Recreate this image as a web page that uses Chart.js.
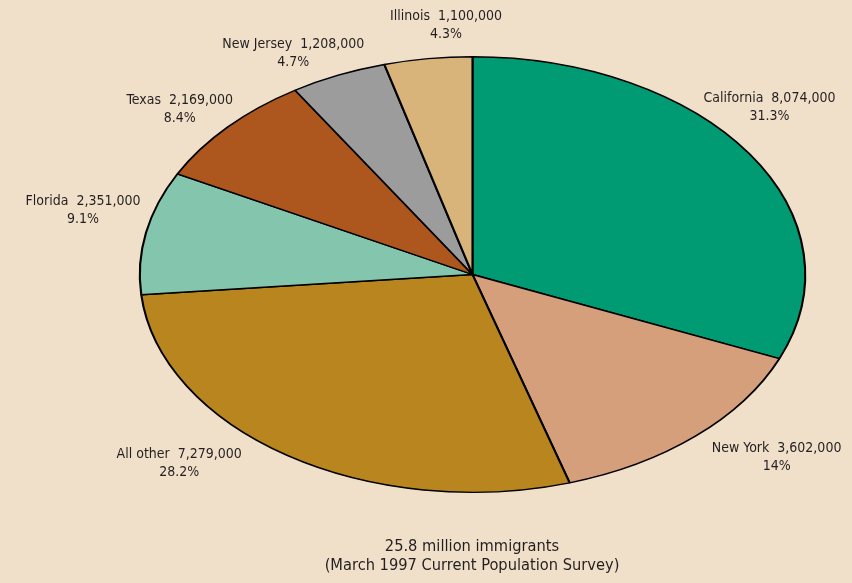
<!DOCTYPE html>
<html>
<head>
<meta charset="utf-8">
<script src="https://cdn.jsdelivr.net/npm/chart.js@4.4.0/dist/chart.umd.min.js"></script>
<style>
  html, body { margin: 0; padding: 0; background: #f0e0ca; }
  #wrap { position: relative; width: 852px; height: 583px; }
</style>
</head>
<body>
<div id="wrap"><canvas id="myChart" width="852" height="583"></canvas></div>
<script>
// Immigrant population by state, March 1997 CPS
const states = ['California', 'New York', 'All other', 'Florida', 'Texas', 'New Jersey', 'Illinois'];
const counts = [8074000, 3602000, 7279000, 2351000, 2169000, 1208000, 1100000];
const percents = ['31.3%', '14%', '28.2%', '9.1%', '8.4%', '4.7%', '4.3%'];
const captionLines = ['25.8 million immigrants', '(March 1997 Current Population Survey)'];

const sliceColors = ['#009a73', '#d59f7c', '#b8851f', '#83c5ad', '#ad571e', '#9c9c9c', '#d8b47b'];
// label nudges from the slice's outer edge (x, y)
const labelNudge = [[20, -56], [81, 12], [-108, -1], [-63, -31], [-48, -27], [-45, -31], [18, -42]];

const FONT = '"Liberation Sans Narrow", "DejaVu Sans Condensed", sans-serif';
const stretchX = 333 / 218;

// squash the circle into an ellipse by stretching it horizontally
const ellipsePlugin = {
    id: 'ellipse',
    beforeDatasetsDraw(chart) {
        const arc = chart.getDatasetMeta(0).data[0];
        const ctx = chart.ctx;
        ctx.save();
        ctx.translate(arc.x, arc.y);
        ctx.scale(stretchX, 1);
        ctx.translate(-arc.x, -arc.y);
    },
    afterDatasetsDraw(chart) {
        chart.ctx.restore();
    }
};

const labelPlugin = {
    id: 'sliceLabels',
    afterDraw(chart) {
        const ctx = chart.ctx;
        const arcs = chart.getDatasetMeta(0).data;
        ctx.save();
        ctx.fillStyle = '#231f20';
        ctx.textAlign = 'center';
        ctx.textBaseline = 'middle';
        ctx.font = '14px ' + FONT;
        arcs.forEach((arc, i) => {
            const mid = (arc.startAngle + arc.endAngle) / 2;
            const x = arc.x + stretchX * arc.outerRadius * Math.cos(mid) + labelNudge[i][0];
            const y = arc.y + arc.outerRadius * Math.sin(mid) + labelNudge[i][1];
            ctx.fillText(states[i] + '  ' + counts[i].toLocaleString('en-US'), x, y);
            ctx.fillText(percents[i], x, y + 18);
        });
        ctx.font = '16.3px ' + FONT;
        ctx.fillText(captionLines[0], chart.width / 2 + 46, 547);
        ctx.fillText(captionLines[1], chart.width / 2 + 46, 566);
        ctx.restore();
    }
};

new Chart(document.getElementById('myChart'), {
    type: 'pie',
    data: {
        labels: states,
        datasets: [{
            data: counts,
            backgroundColor: sliceColors,
            borderColor: '#000',
            borderWidth: 1.4,
            borderAlign: 'center'
        }]
    },
    options: {
        responsive: false,
        animation: false,
        events: [],
        layout: { padding: { left: 254, right: 161, top: 56, bottom: 90 } },
        plugins: {
            legend: { display: false },
            tooltip: { enabled: false }
        }
    },
    plugins: [ellipsePlugin, labelPlugin]
});
</script>
</body>
</html>
